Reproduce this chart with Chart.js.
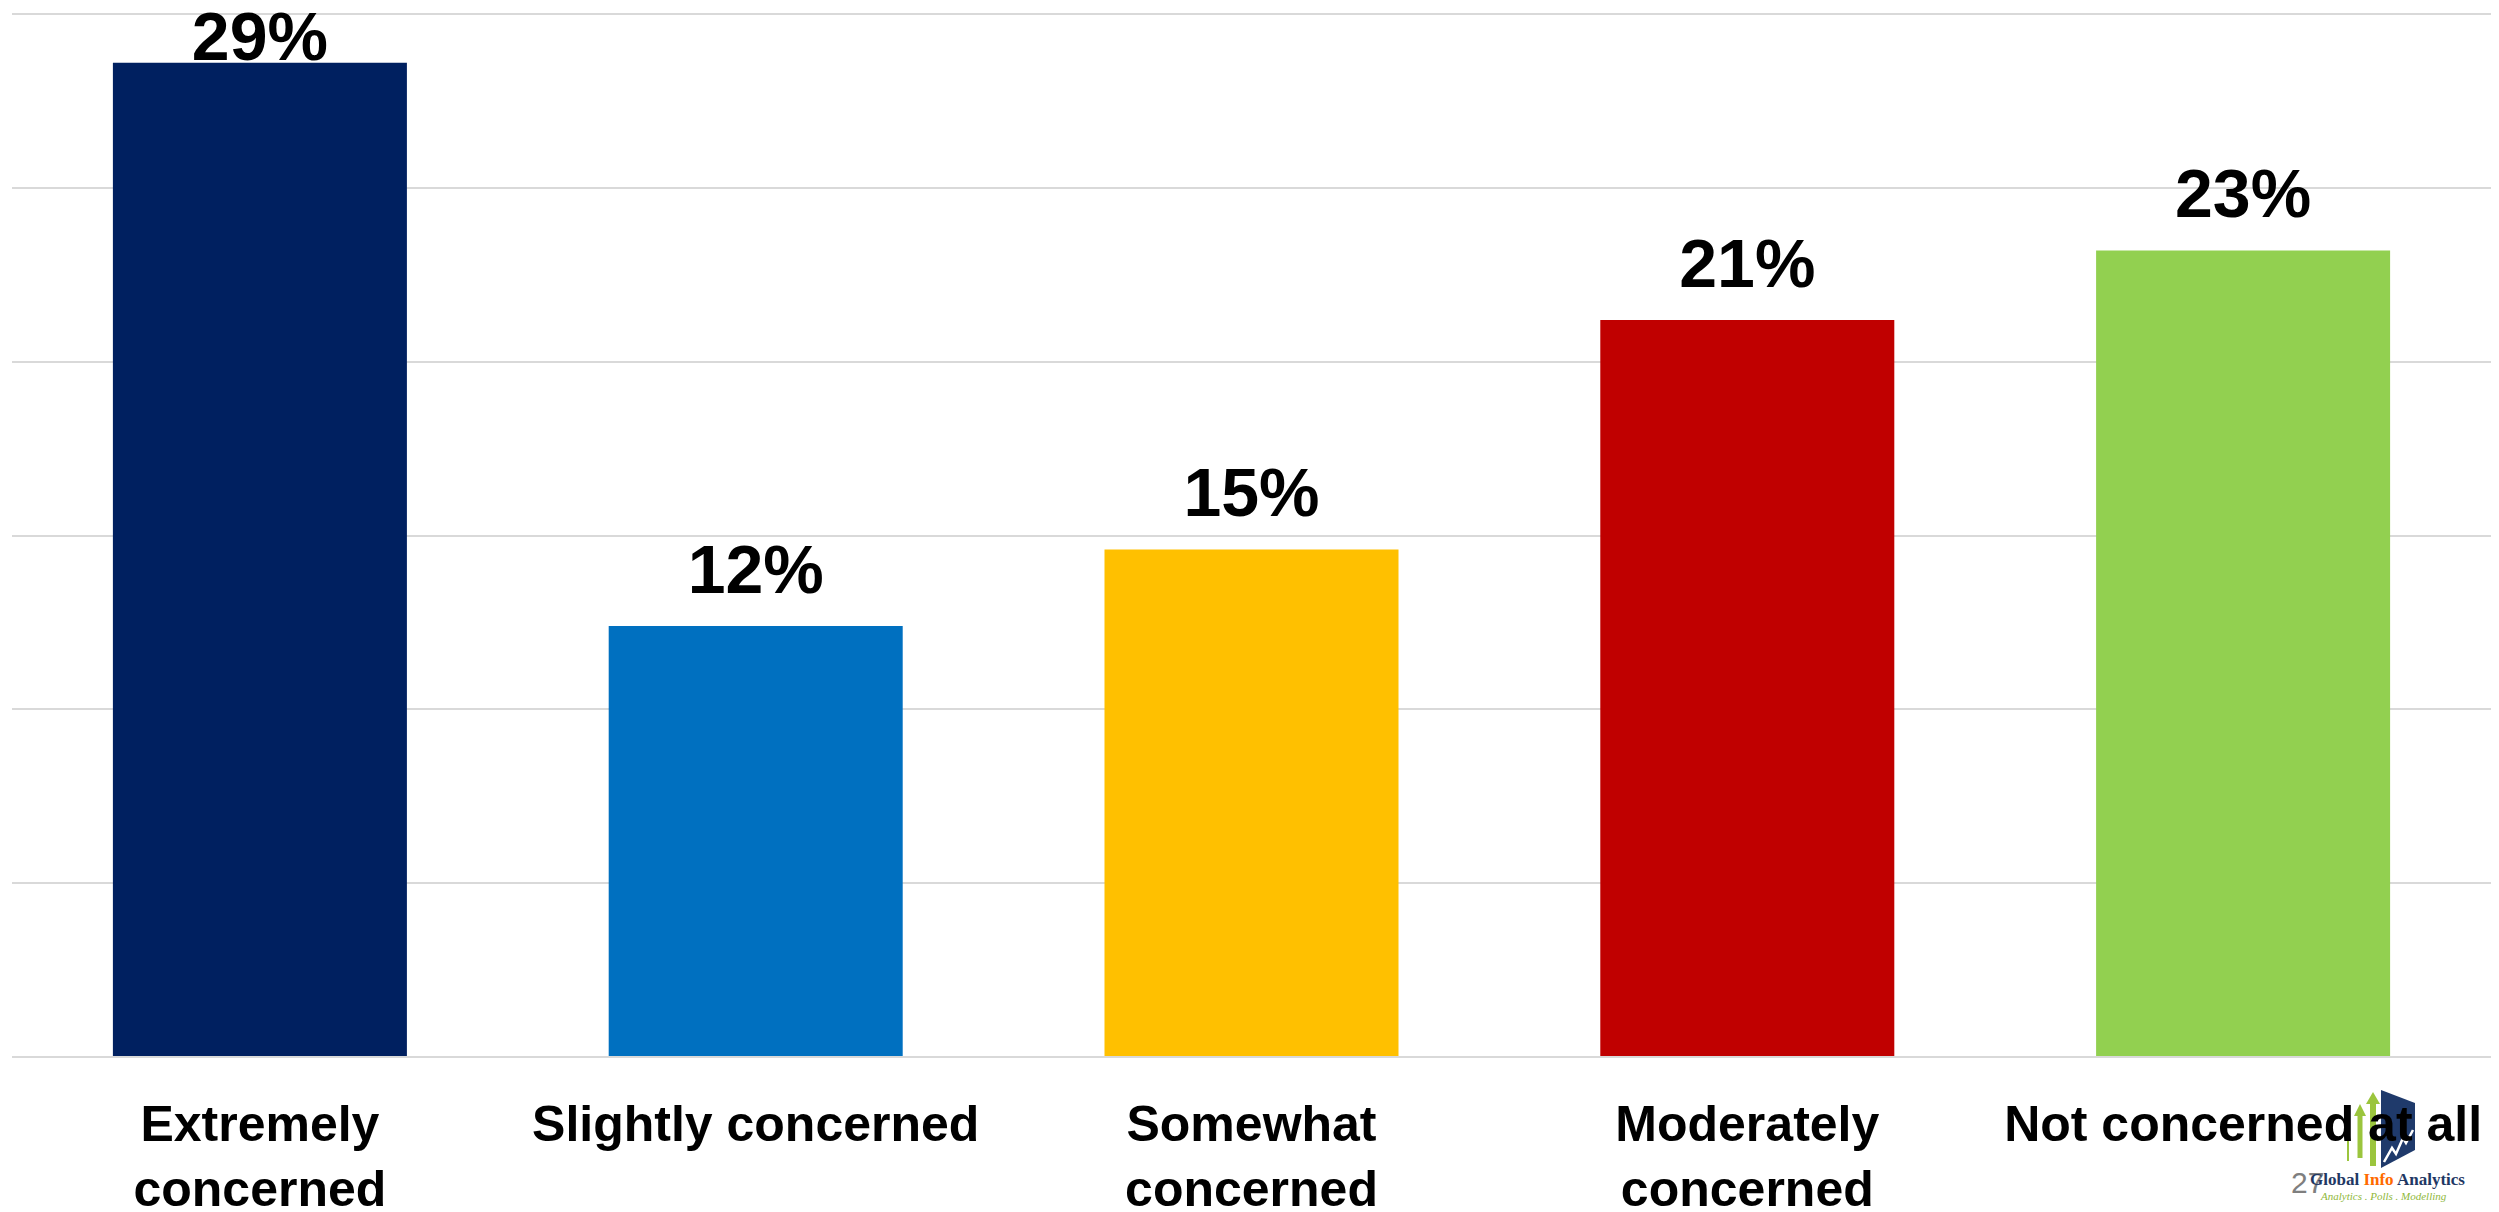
<!DOCTYPE html>
<html>
<head>
<meta charset="utf-8">
<script src="https://cdn.jsdelivr.net/npm/chart.js@4.4.1/dist/chart.umd.min.js"></script>
<style>
  html, body { margin: 0; padding: 0; background: #fff; }
  #wrap { position: relative; width: 2499px; height: 1212px; }
  #chart { position: absolute; left: 0; top: 0; z-index: 1; }
  #logo { position: absolute; left: 0; top: 0; z-index: 0; }
  #logo svg { position: absolute; left: 2340px; top: 1086px; }
  #logo .page { position: absolute; left: 2291px; top: 1166px; font: 30px "Liberation Sans", Arial, sans-serif; color: #7f7f7f; }
  #logo .brand { position: absolute; left: 2310px; top: 1170px; font: bold 17px "Liberation Serif", "Times New Roman", serif; color: #1f3864; white-space: nowrap; }
  #logo .brand span { color: #ff6a00; }
  #logo .tag { position: absolute; left: 2321px; top: 1190px; font: italic 11px "Liberation Serif", serif; color: #8fb83a; white-space: nowrap; }
</style>
</head>
<body>
<div id="wrap">
  <div id="logo">
    <svg width="80" height="86" viewBox="0 0 80 86">
      <polygon points="41,4 75,17 75,64 41,82" fill="#1f3a6b"/>
      <polyline points="44,76 52,62 56,68 63,52 66,57 73,44" fill="none" stroke="#fff" stroke-width="2.5"/>
      <line x1="8" y1="75" x2="8" y2="40" stroke="#9bc53d" stroke-width="2"/>
      <line x1="20" y1="72" x2="20" y2="28" stroke="#9bc53d" stroke-width="5"/>
      <polygon points="14,30 20,18 26,30" fill="#9bc53d"/>
      <line x1="33" y1="80" x2="33" y2="16" stroke="#9bc53d" stroke-width="6"/>
      <polygon points="26,18 33,6 40,18" fill="#9bc53d"/>
    </svg>
    <div class="page">27</div>
    <div class="brand">Global <span>Info</span> Analytics</div>
    <div class="tag">Analytics . Polls . Modelling</div>
  </div>
  <canvas id="chart" width="2499" height="1212"></canvas>
</div>
<script>
// data (percent of respondents)
const categories = [
    ['Extremely', 'concerned'],
    'Slightly concerned',
    ['Somewhat', 'concerned'],
    ['Moderately', 'concerned'],
    'Not concerned at all'
];
const shares = [28.6, 12.4, 14.6, 21.2, 23.2];
const barColors = ['#002060', '#0070C0', '#FFC000', '#C00000', '#92D050'];
const yMax = 30;
const yStep = 5;

const FONT = '"Liberation Sans", Arial, sans-serif';

// percent labels above each bar, kept inside the top of the canvas
const valueLabels = {
    id: 'valueLabels',
    afterDatasetsDraw(chart) {
        const ctx = chart.ctx;
        const meta = chart.getDatasetMeta(0);
        ctx.save();
        ctx.font = 'bold 68px ' + FONT;
        ctx.fillStyle = '#000';
        ctx.textAlign = 'center';
        ctx.textBaseline = 'alphabetic';
        meta.data.forEach((bar, i) => {
            const y = Math.max(bar.y - 33, 60);
            ctx.fillText(Math.round(shares[i]) + '%', bar.x, y);
        });
        ctx.restore();
    }
};

const ctx = document.getElementById('chart').getContext('2d');
new Chart(ctx, {
    type: 'bar',
    data: {
        labels: categories,
        datasets: [{
            data: shares,
            backgroundColor: barColors,
            borderWidth: 0,
            barPercentage: 0.593,
            categoryPercentage: 1
        }]
    },
    options: {
        responsive: false,
        animation: false,
        layout: { padding: { left: 12, right: 8, top: 14, bottom: 0 } },
        plugins: {
            legend: { display: false },
            tooltip: { enabled: false }
        },
        scales: {
            x: {
                // tick marks hidden, their length only pushes the labels down
                grid: { display: false, drawTicks: true, tickLength: 38 },
                border: { display: false },
                ticks: {
                    color: '#000',
                    font: { family: FONT, size: 50, weight: 'bold', lineHeight: 1.3 },
                    padding: 0,
                    maxRotation: 0,
                    minRotation: 0,
                    autoSkip: false
                },
                afterFit(scale) { scale.height = 155; }
            },
            y: {
                min: 0,
                max: yMax,
                ticks: { display: false, stepSize: yStep },
                grid: { color: '#D9D9D9', lineWidth: 2, drawTicks: false },
                border: { display: false }
            }
        }
    },
    plugins: [valueLabels]
});
</script>
</body>
</html>
